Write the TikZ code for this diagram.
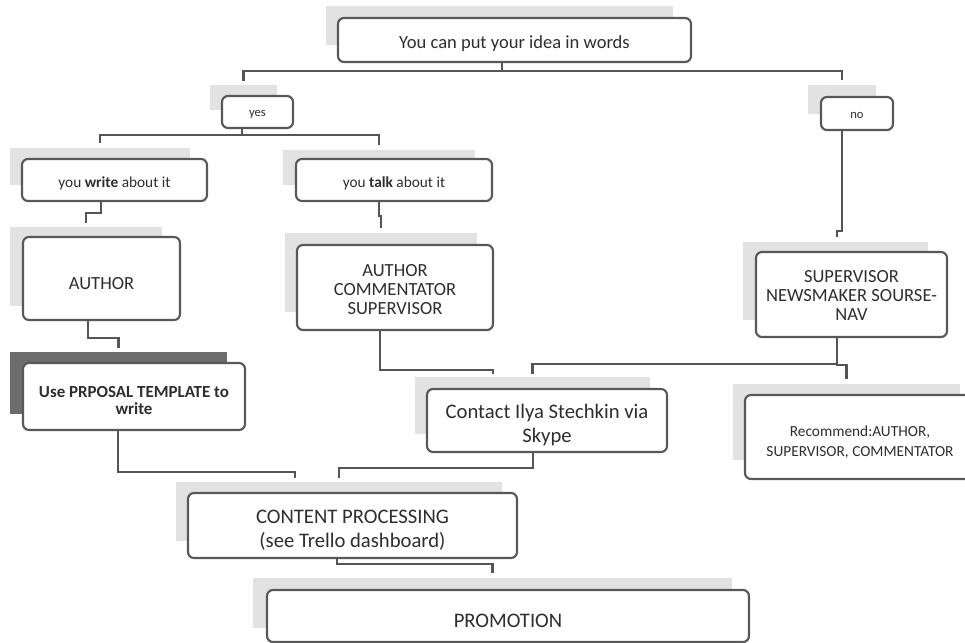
\documentclass[tikz,border=0pt]{standalone}
\usepackage{fontspec}
\setmainfont{Carlito}
\usetikzlibrary{fit,calc}
\definecolor{linec}{HTML}{555555}
\definecolor{boxc}{HTML}{585858}
\definecolor{shadc}{HTML}{E2E2E2}
\definecolor{darkshadc}{HTML}{6C6C6C}
\definecolor{txtc}{HTML}{2E2E2E}
\tikzset{
  box/.style={draw=boxc, line width=1.6pt, rounded corners=4.5pt, fill=white, inner sep=0pt, align=center, text=txtc},
  shad/.style={fill=shadc, draw=none, inner sep=0pt},
  darkshad/.style={fill=darkshadc, draw=none, inner sep=0pt},
  conn/.style={draw=linec, line width=1.6pt},
  fA/.style={font=\fontsize{13.9}{14.2}\selectfont},
  fB/.style={font=\fontsize{11.5}{13.5}\selectfont},
  fC/.style={font=\fontsize{9.5}{11}\selectfont},
  fD/.style={font=\fontsize{15.5}{18}\selectfont},
  fE/.style={font=\fontsize{12.7}{12.8}\selectfont\bfseries},
  fF/.style={font=\fontsize{11.5}{15}\selectfont},
}
\begin{document}
\begin{tikzpicture}[x=0.75pt,y=-0.75pt]
\useasboundingbox (0,0) rectangle (965,643);
\clip (0,0) rectangle (965,643);
\fill[white] (0,0) rectangle (965,643);

% shadows
\node[shad, fit={(326,6) (673,45)}] (topsh) {};
\node[shad, fit={(210,85) (277,110)}] (yessh) {};
\node[shad, fit={(808,85) (876,114)}] (nosh) {};
\node[shad, fit={(10,148) (190,185)}] (writesh) {};
\node[shad, fit={(283,150) (475,185)}] (talksh) {};
\node[shad, fit={(10,227) (162,306)}] (authorsh) {};
\node[darkshad, fit={(10,352) (227,414)}] (propsh) {};
\node[shad, fit={(285,233) (477,312)}] (acssh) {};
\node[shad, fit={(743,242) (928,320)}] (snssh) {};
\node[shad, fit={(415,377) (650,434)}] (contsh) {};
\node[shad, fit={(733,384) (960,460)}] (recsh) {};
\node[shad, fit={(176,482) (502,541)}] (cpsh) {};
\node[shad, fit={(253,578) (732,628)}] (promsh) {};

% boxes
\node[box, fit={(338,18) (691,62)}] (top) {};
\node[fA, text=txtc] at ($(top.center)+(0,4)$) {You can put your idea in words};
\node[box, fit={(222,96) (293,128)}] (yes) {};
\node[fC, text=txtc] at ($(yes.center)+(0,2)$) {yes};
\node[box, fit={(821,97) (893,130)}] (no) {};
\node[fC, text=txtc] at ($(no.center)+(0,2)$) {no};
\node[box, fit={(22,159) (207,201)}] (write) {};
\node[fB, text=txtc] at ($(write.center)+(0,3)$) {you \textbf{write} about it};
\node[box, fit={(296,159) (492,201)}] (talk) {};
\node[fB, text=txtc] at ($(talk.center)+(0,3)$) {you \textbf{talk} about it};
\node[box, fit={(23,237) (180,320)}] (author) {};
\node[fA, text=txtc] at ($(author.center)+(0,5)$) {AUTHOR};
\node[box, fit={(23,363) (245,430)}] (prop) {};
\node[fE, text=txtc, align=center] at ($(prop.center)+(0,4)$) {Use PRPOSAL TEMPLATE to\\write};
\node[box, fit={(297,245) (493,330)}] (acs) {};
\node[fA, text=txtc, align=center] at ($(acs.center)+(0,2)$) {AUTHOR\\COMMENTATOR\\SUPERVISOR};
\node[box, fit={(756,252) (947,337)}] (sns) {};
\node[fA, text=txtc, align=center] at ($(sns.center)+(0,1)$) {SUPERVISOR\\NEWSMAKER SOURSE-\\NAV};
\node[box, fit={(427,389) (667,452)}] (contact) {};
\node[fD, text=txtc, align=center] at ($(contact.center)+(0,4)$) {Contact Ilya Stechkin via\\Skype};
\node[box, fit={(745,395) (975,479)}] (rec) {};
\node[fF, text=txtc, align=center] at ($(rec.center)+(0,5)$) {Recommend:AUTHOR,\\SUPERVISOR, COMMENTATOR};
\node[box, fit={(188,493) (517,558)}] (cp) {};
\node[fD, text=txtc, align=center] at ($(cp.center)+(0,5)$) {CONTENT PROCESSING\\(see Trello dashboard)};
\node[box, fit={(267,590) (749,642)}] (prom) {};
\node[fD, text=txtc] at ($(prom.center)+(0,5)$) {PROMOTION};

% connectors
\begin{scope}[conn]
\draw ($(top.south)+(-12.5,0)$) -- ++(0,8) -| ($(yessh.north)+(0,-4)$);
\draw ($(top.south)+(-12.5,0)$) -- ++(0,8) -| ($(nosh.north)+(0,-5)$);
\draw ($(yes.south)+(-15.5,0)$) -- ++(0,6) -| ($(writesh.north)+(0,-5)$);
\draw ($(yes.south)+(-15.5,0)$) -- ++(0,6) -| ($(talksh.north)+(0,-5)$);
\draw ($(write.south)+(-13.5,0)$) -- ++(0,11) -| ($(authorsh.north)+(0,-4)$);
\draw ($(talk.south)+(-15,0)$) -- ++(0,14) -| ($(acssh.north)+(0,-5)$);
\draw ($(author.south)+(-13.5,0)$) -- ++(0,17) -| ($(propsh.north)+(0,-4)$);
\draw ($(prop.south)+(-16,0)$) -- ++(0,41) -| ($(cpsh.north)+(-44,-4)$);
\draw ($(acs.south)+(-15,0)$) -- ++(0,39) -| ($(contsh.north)+(-39.5,-3)$);
\draw ($(no.south)+(-15,0)$) -- ++(0,100) -| ($(snssh.north)+(1.5,-5)$);
\draw ($(sns.south)+(-14.5,0)$) -- ++(0,26) -| ($(contsh.north)+(0,-3)$);
\draw ($(sns.south)+(-14.5,0)$) -- ++(0,27) -| ($(recsh.north)+(0,-5)$);
\draw ($(contact.south)+(-14,0)$) -- ++(0,15) -| ($(cpsh.north)+(0,-4)$);
\draw ($(cp.south)+(-15.5,0)$) -- ++(0,5) -| ($(promsh.north)+(0,-5)$);
\end{scope}
\end{tikzpicture}
\end{document}
